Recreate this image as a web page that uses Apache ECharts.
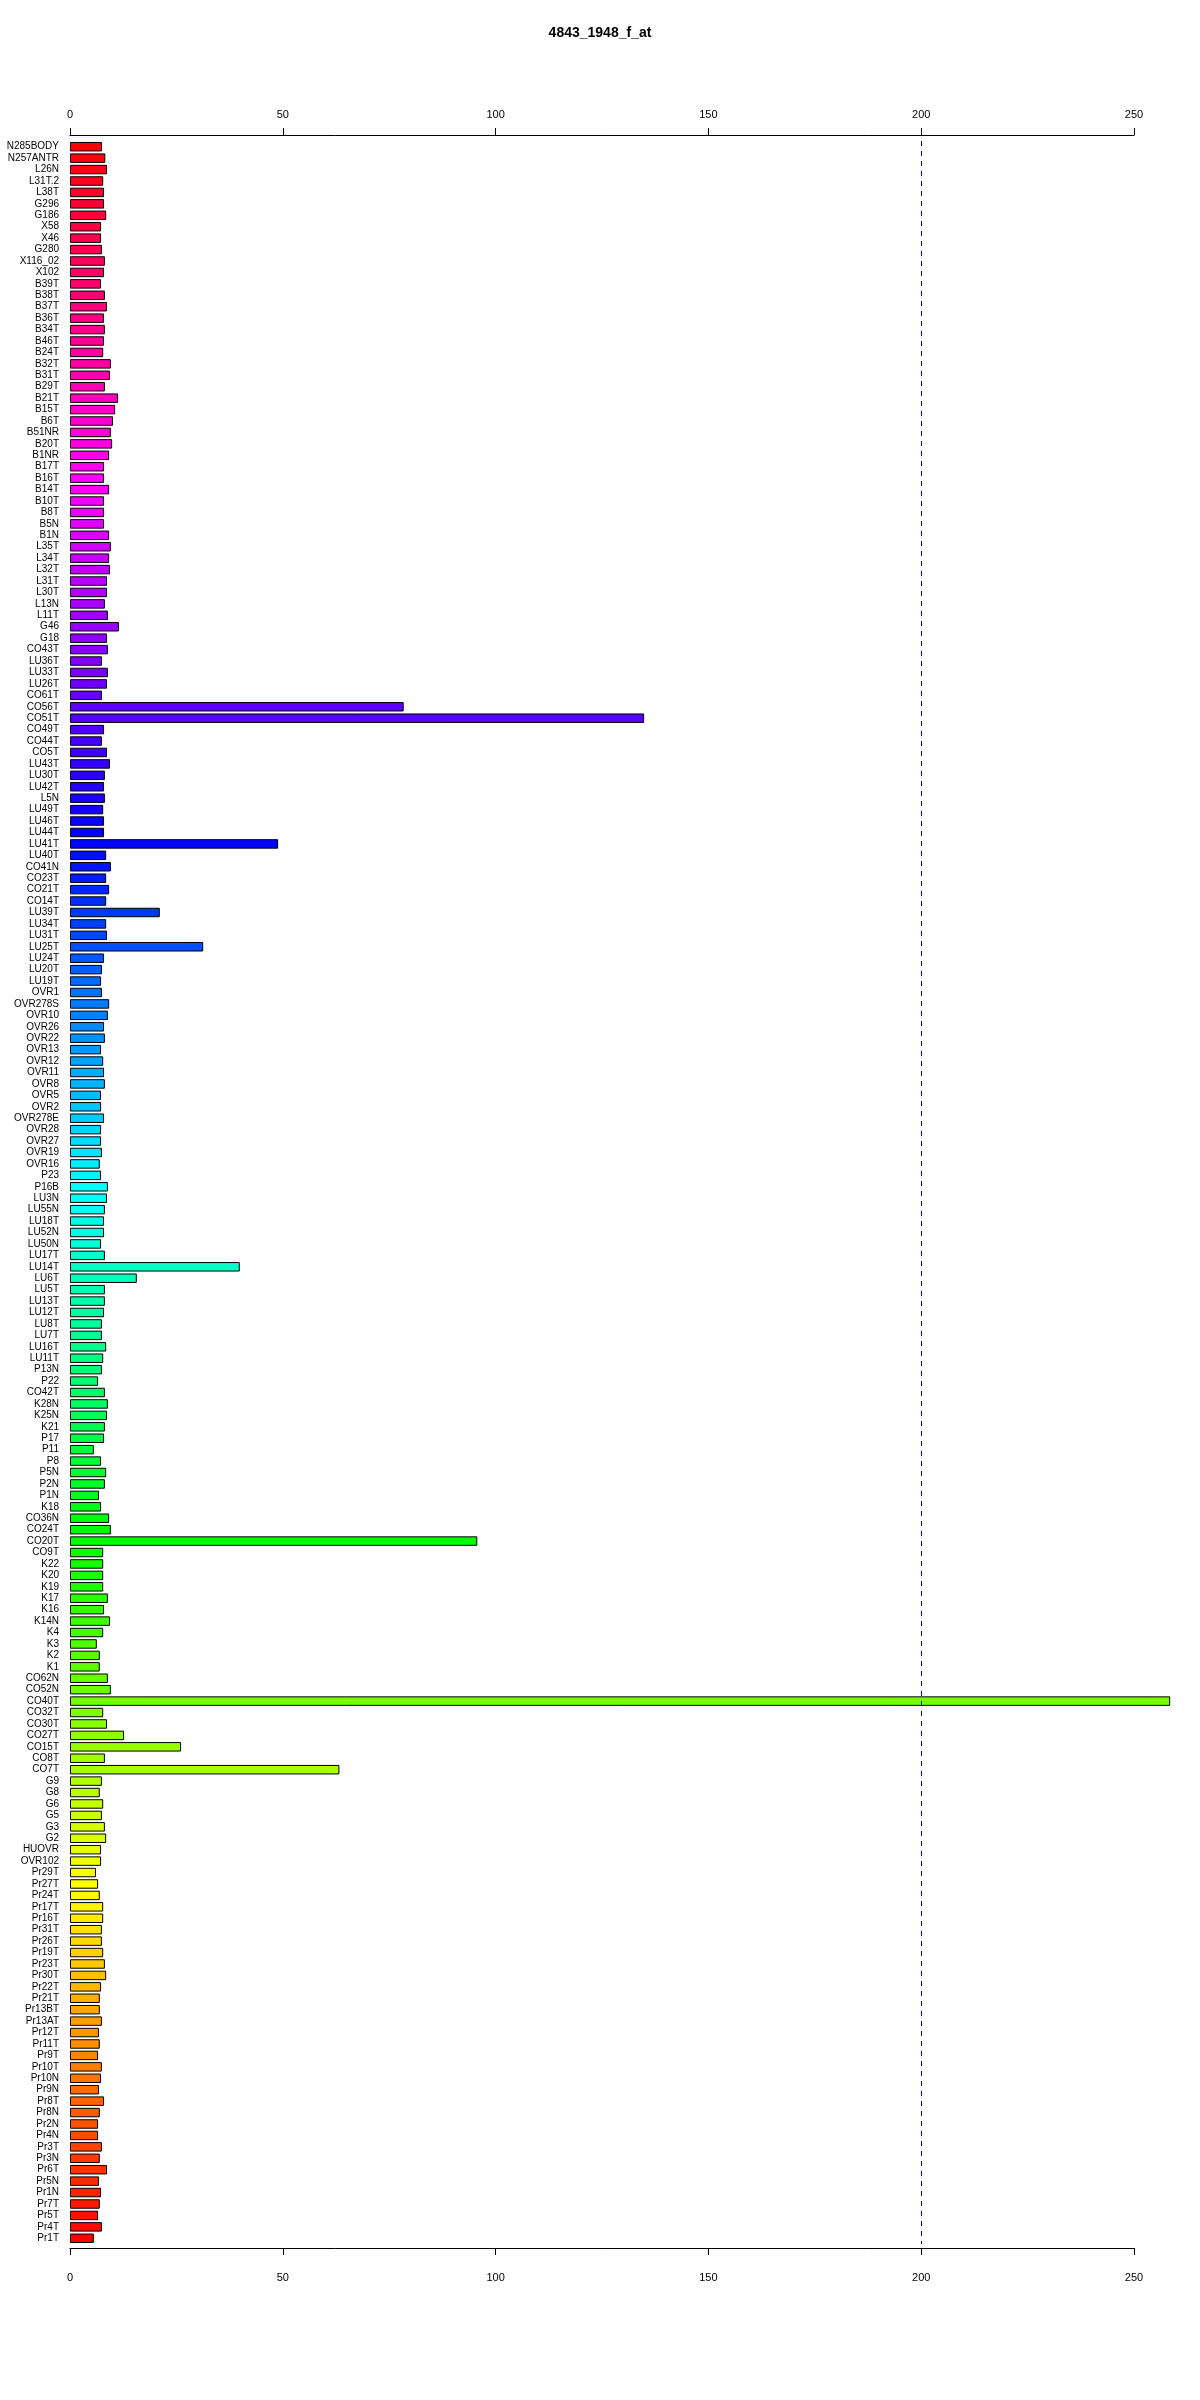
<!DOCTYPE html>
<html>
<head>
<meta charset="utf-8">
<script src="https://cdn.jsdelivr.net/npm/echarts@6/dist/echarts.min.js"></script>
<style>
html,body{margin:0;padding:0;background:#fff;}
#chart{width:1200px;height:2400px;}
</style>
</head>
<body>
<div id="chart"></div>
<script>
var title = '4843_1948_f_at';
var categories = [
'N285BODY','N257ANTR','L26N','L31T.2','L38T','G296','G186','X58','X46','G280','X116_02','X102','B39T','B38T','B37T',
'B36T','B34T','B46T','B24T','B32T','B31T','B29T','B21T','B15T','B6T','B51NR','B20T','B1NR','B17T','B16T',
'B14T','B10T','B8T','B5N','B1N','L35T','L34T','L32T','L31T','L30T','L13N','L11T','G46','G18','CO43T','LU36T',
'LU33T','LU26T','CO61T','CO56T','CO51T','CO49T','CO44T','CO5T','LU43T','LU30T','LU42T','L5N','LU49T','LU46T','LU44T',
'LU41T','LU40T','CO41N','CO23T','CO21T','CO14T','LU39T','LU34T','LU31T','LU25T','LU24T','LU20T','LU19T','OVR1','OVR278S',
'OVR10','OVR26','OVR22','OVR13','OVR12','OVR11','OVR8','OVR5','OVR2','OVR278E','OVR28','OVR27','OVR19','OVR16','P23','P16B',
'LU3N','LU55N','LU18T','LU52N','LU50N','LU17T','LU14T','LU6T','LU5T','LU13T','LU12T','LU8T','LU7T','LU16T','LU11T',
'P13N','P22','CO42T','K28N','K25N','K21','P17','P11','P8','P5N','P2N','P1N','K18','CO36N','CO24T',
'CO20T','CO9T','K22','K20','K19','K17','K16','K14N','K4','K3','K2','K1','CO62N','CO52N','CO40T',
'CO32T','CO30T','CO27T','CO15T','CO8T','CO7T','G9','G8','G6','G5','G3','G2','HUOVR','OVR102','Pr29T','Pr27T',
'Pr24T','Pr17T','Pr16T','Pr31T','Pr26T','Pr19T','Pr23T','Pr30T','Pr22T','Pr21T','Pr13BT','Pr13AT','Pr12T','Pr11T','Pr9T',
'Pr10T','Pr10N','Pr9N','Pr8T','Pr8N','Pr2N','Pr4N','Pr3T','Pr3N','Pr6T','Pr5N','Pr1N','Pr7T','Pr5T','Pr4T','Pr1T'
];
var values = [
7.5,8.3,8.7,7.8,8.0,8.0,8.5,7.3,7.3,7.5,8.2,8.0,7.3,8.2,8.7,
8.0,8.2,8.0,7.8,9.6,9.4,8.2,11.3,10.6,10.1,9.6,9.9,9.2,8.0,8.0,
9.2,8.0,8.0,8.0,9.2,9.6,9.2,9.4,8.7,8.7,8.2,8.9,11.5,8.7,8.9,7.5,
8.9,8.7,7.5,78.4,134.9,8.0,7.5,8.7,9.4,8.2,8.0,8.2,7.8,8.0,8.0,
48.9,8.5,9.6,8.5,9.2,8.5,21.1,8.5,8.7,31.3,8.0,7.5,7.3,7.5,9.2,
8.9,8.0,8.2,7.3,7.8,8.0,8.2,7.3,7.3,8.0,7.3,7.3,7.5,7.0,7.3,8.9,
8.7,8.2,8.0,8.0,7.3,8.2,39.9,15.7,8.2,8.2,8.0,7.5,7.5,8.5,7.8,
7.5,6.6,8.2,8.9,8.7,8.2,8.0,5.6,7.3,8.5,8.2,6.8,7.3,9.2,9.6,
95.7,7.8,7.8,7.8,7.8,8.9,8.0,9.4,7.8,6.3,7.0,7.0,8.9,9.6,258.5,
7.8,8.7,12.7,26.1,8.2,63.3,7.5,7.0,7.8,7.5,8.2,8.5,7.3,7.3,6.1,6.6,
7.0,7.8,7.8,7.5,7.5,7.8,8.2,8.5,7.3,7.0,7.0,7.5,6.8,7.0,6.6,
7.5,7.3,6.8,8.0,7.0,6.6,6.6,7.5,7.0,8.7,6.8,7.3,7.0,6.6,7.5,5.6
];
var xTicks = [0, 50, 100, 150, 200, 250];
var refLine = 200;

function hsvHex(h, s, v) {
  var i = Math.floor(h * 6), f = h * 6 - i;
  var p = v * (1 - s), q = v * (1 - f * s), t = v * (1 - (1 - f) * s);
  var r, g, b;
  switch (((i % 6) + 6) % 6) {
    case 0: r = v; g = t; b = p; break;
    case 1: r = q; g = v; b = p; break;
    case 2: r = p; g = v; b = t; break;
    case 3: r = p; g = q; b = v; break;
    case 4: r = t; g = p; b = v; break;
    default: r = v; g = p; b = q;
  }
  function hx(x) { var s2 = Math.round(x * 255).toString(16); return s2.length < 2 ? '0' + s2 : s2; }
  return '#' + hx(r) + hx(g) + hx(b);
}
var n = categories.length;
var barData = values.map(function (v, i) {
  return { value: v, itemStyle: { color: hsvHex((n - 1 - i) / n, 1, 1) } };
});

var font = '"Liberation Sans", Arial, Helvetica, sans-serif';
function xAxisDef(pos, offset, margin) {
  return {
    type: 'value', position: pos, offset: offset,
    min: xTicks[0], max: xTicks[xTicks.length - 1], interval: xTicks[1] - xTicks[0],
    axisLine: { show: true, lineStyle: { color: '#000', width: 1 } },
    axisTick: { show: true, length: 7, lineStyle: { color: '#000', width: 1 } },
    axisLabel: { fontSize: 11, color: '#000', fontFamily: font, margin: margin },
    splitLine: { show: false }
  };
}

var chart = echarts.init(document.getElementById('chart'), null, { renderer: 'canvas' });
chart.setOption({
  backgroundColor: '#fff',
  animation: false,
  title: {
    text: title, left: 'center', top: 21,
    textStyle: { fontSize: 14, fontWeight: 'bold', color: '#000', fontFamily: font }
  },
  grid: { left: 70, right: 66, top: 141, bottom: 156, containLabel: false },
  xAxis: [ xAxisDef('top', 6, 15), xAxisDef('bottom', 4, 24) ],
  yAxis: {
    type: 'category', data: categories, inverse: true, boundaryGap: true,
    axisLine: { show: false }, axisTick: { show: false },
    axisLabel: { interval: 0, fontSize: 10, color: '#000', fontFamily: font, margin: 11 }
  },
  series: [{
    type: 'bar', xAxisIndex: 0, data: barData, clip: false,
    barCategoryGap: '17%',
    itemStyle: { borderColor: '#000', borderWidth: 1 },
    markLine: {
      silent: true, symbol: 'none',
      label: { show: false },
      lineStyle: { color: '#000099', type: [5, 5], width: 1 },
      data: [{ xAxis: refLine }]
    }
  }]
});
</script>
</body>
</html>
